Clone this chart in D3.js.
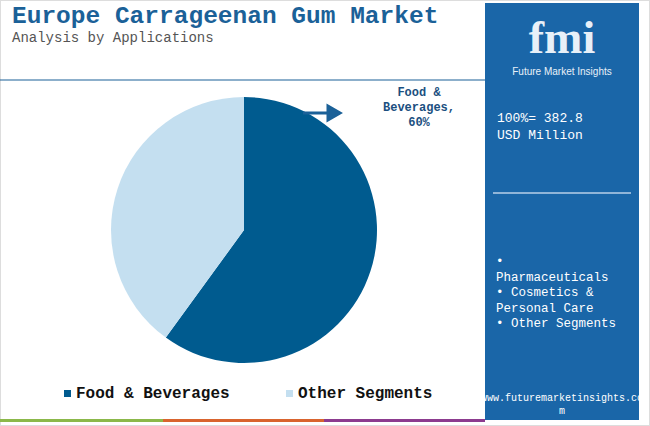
<!DOCTYPE html>
<html><head><meta charset="utf-8">
<script src="https://cdn.jsdelivr.net/npm/d3@7"></script>
<style>body{margin:0;background:#fff}text{font-family:"Liberation Mono",monospace}</style>
</head><body><svg width="650" height="426"></svg>
<script>
const categories = ['Food & Beverages', 'Other Segments']
const shares = [60, 40]
const colors = ['#005b8f', '#c4dff0']
const otherList = ['•', 'Pharmaceuticals', '• Cosmetics &', 'Personal Care', '• Other Segments']

const svg = d3.select('svg')
svg.append('rect').attr('x',0.5).attr('y',0.5).attr('width',649).attr('height',425).attr('fill','none').attr('stroke','#ddd')

// title
svg.append('text').attr('x',12).attr('y',23).text('Europe Carrageenan Gum Market')
  .attr('font-size',24.5).attr('font-weight','bold').attr('fill','#1b6198')
svg.append('text').attr('x',12).attr('y',42).text('Analysis by Applications')
  .attr('font-size',14).attr('fill','#555')
svg.append('line').attr('x1',0).attr('x2',490).attr('y1',80).attr('y2',80).attr('stroke','#1b6198').attr('stroke-width',1.2)

// pie
const pie = d3.pie().sort(null).value(d=>d)
const arc = d3.arc().innerRadius(0).outerRadius(133)
const g = svg.append('g').attr('transform','translate(244,230)')
g.selectAll('path').data(pie(shares)).join('path').attr('d',arc).attr('fill',(d,i)=>colors[i])

// callout
svg.append('path').attr('d','M303,113 L328,113 L328,106 L340,113 L328,120 L328,113').attr('fill','#1b6198').attr('stroke','#1b6198').attr('stroke-width',3)
;['Food &','Beverages,',shares[0]+'%'].forEach((t,i)=>svg.append('text').attr('x',419).attr('y',96+i*15)
  .attr('text-anchor','middle').attr('font-size',12).attr('font-weight','bold').attr('fill','#1b4f80').text(t))

// legend
const lx = [64, 286]
categories.forEach((c,i)=>{
  svg.append('rect').attr('x',lx[i]).attr('y',390).attr('width',7).attr('height',7).attr('fill',colors[i])
  svg.append('text').attr('x',lx[i]+12).attr('y',398).attr('font-size',16).attr('font-weight','bold').attr('fill','#111').text(c)
})
const bars = [['#8bb84a',0,163],['#d9642e',163,324],['#8c3b8f',324,485]]
bars.forEach(b=>svg.append('rect').attr('x',b[1]).attr('y',419).attr('width',b[2]-b[1]).attr('height',3).attr('fill',b[0]))

// side panel
svg.append('rect').attr('x',485).attr('y',3).attr('width',154).attr('height',417).attr('fill','#1a66a8')
svg.append('text').attr('x',562).attr('y',53).attr('text-anchor','middle').attr('font-size',46).attr('font-weight','bold')
  .attr('style','font-family:"Liberation Serif"').attr('fill','#e8f0f8').text('fmi')
svg.append('text').attr('x',562).attr('y',75).attr('text-anchor','middle').attr('font-size',10)
  .attr('style','font-family:"Liberation Sans"').attr('fill','#e8f0f8').text('Future Market Insights')
svg.append('text').attr('x',497).attr('y',122).attr('font-size',13).attr('fill','#fff').text('100%= 382.8')
svg.append('text').attr('x',497).attr('y',139).attr('font-size',13).attr('fill','#fff').text('USD Million')
svg.append('line').attr('x1',493).attr('x2',631).attr('y1',193).attr('y2',193).attr('stroke','#b8d0e8').attr('stroke-width',1.5)
otherList.forEach((t,i)=>svg.append('text').attr('x',496).attr('y',265+i*15.5).attr('font-size',12.5).attr('fill','#fff').text(t))
svg.append('text').attr('x',562).attr('y',401).attr('text-anchor','middle').attr('font-size',10).attr('fill','#fff').text('www.futuremarketinsights.co')
svg.append('text').attr('x',562).attr('y',414).attr('text-anchor','middle').attr('font-size',10).attr('fill','#fff').text('m')
</script></body></html>
